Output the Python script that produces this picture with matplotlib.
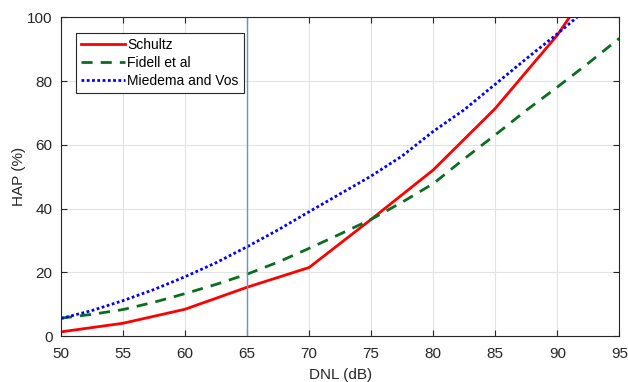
import numpy as np
import matplotlib
matplotlib.use('Agg')
import matplotlib.pyplot as plt

plt.rcParams['font.family'] = ['Liberation Sans', 'DejaVu Sans']

# Schultz curve, 5 dB steps
dnl_s = [50, 55, 60, 65, 70, 75, 80, 85, 90, 95]
hap_schultz = [1.3, 4.0, 8.4, 15.3, 21.5, 36.6, 52.1, 71.4, 94.4, 123.0]

# smooth curves, read every 2.5 dB
dnl = [50, 52.5, 55, 57.5, 60, 62.5, 65, 67.5, 70, 72.5, 75, 77.5, 80,
       82.5, 85, 87.5, 90, 92.5, 95]
hap_fidell = [5.6, 6.8, 8.3, 10.6, 13.3, 16.2, 19.4, 23.2, 27.5, 32.0, 36.6,
              42.0, 47.8, 55.6, 63.1, 70.8, 78.1, 85.6, 93.4]
hap_miedema = [5.5, 8.0, 11.1, 14.6, 18.6, 23.0, 28.0, 33.3, 39.0, 44.6,
               50.2, 56.5, 64.2, 71.0, 79.0, 87.0, 94.8, 103.0, 112.0]

dnl_limite = 65

txt = '#262626'
fig = plt.figure(figsize=(6.28, 3.82), dpi=100)
ax = fig.add_axes([0.0971, 0.1204, 0.8891, 0.8343])

ax.grid(True, color='#e3e3e3', lw=0.8)
ax.set_axisbelow(True)
ax.plot(dnl_s, hap_schultz, '-', color='#ff0000', lw=2, label='Schultz')
ax.plot(dnl, hap_fidell, '--', color='#0a6e1e', lw=2, dashes=(4, 2.9),
        label='Fidell et al')
ax.plot(dnl, hap_miedema, ':', color='#0000ff', lw=2, dashes=(1, 0.9),
        label='Miedema and Vos')
ax.axvline(dnl_limite, color='#5b9bc8', lw=1)

ax.set_xlim(50, 95)
ax.set_ylim(0, 100)
ax.set_xticks(np.arange(50, 96, 5))
ax.set_yticks(np.arange(0, 101, 20))
ax.tick_params(direction='in', top=True, right=True, length=4, width=0.8,
               labelsize=11, colors=txt)
ax.tick_params(axis='x', pad=8)
ax.tick_params(axis='y', pad=6)
for s in ax.spines.values():
    s.set_color(txt)
    s.set_linewidth(0.8)

ax.set_xlabel('DNL (dB)', fontsize=11, color=txt, labelpad=5)
ax.set_ylabel('HAP (%)', fontsize=11, color=txt, labelpad=1)

leg = ax.legend(loc='upper left', bbox_to_anchor=(0.027, 0.951), fontsize=10,
                handlelength=3.2, handletextpad=0.15, borderpad=0.35,
                labelspacing=0.3, fancybox=False, framealpha=1,
                borderaxespad=0)
leg.get_frame().set_edgecolor(txt)
leg.get_frame().set_linewidth(0.8)

plt.savefig('out.png', dpi=100)
